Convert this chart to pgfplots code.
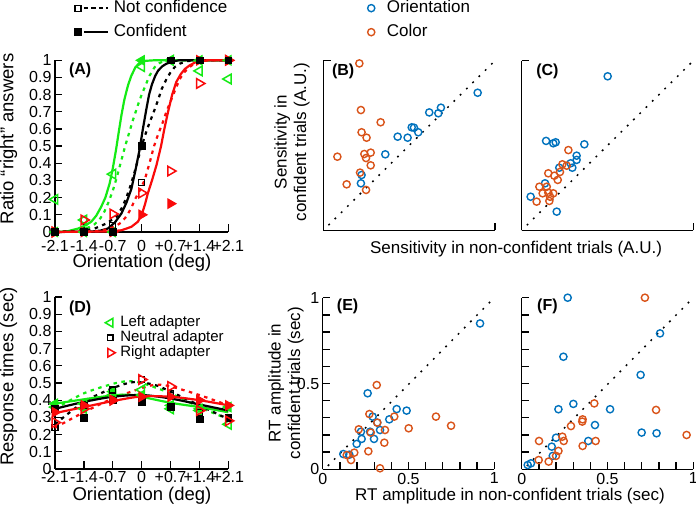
\documentclass[border=0pt]{standalone}
\usepackage{fontspec}
\setmainfont{Liberation Sans}
\usepackage{pgfplots}
\pgfplotsset{compat=1.18}
\definecolor{gr}{RGB}{20,235,20}
\definecolor{rd}{RGB}{250,10,10}
\definecolor{bl}{RGB}{0,114,189}
\definecolor{og}{RGB}{217,83,25}
\newcommand{\tfont}{\fontsize{16}{16}\selectfont}
\newcommand{\lfont}{\fontsize{17}{19.5}\selectfont}
\newcommand{\Lfont}{\fontsize{18.5}{20}\selectfont}
\newcommand{\pfont}{\bfseries\fontsize{16}{16}\selectfont}
\pgfplotsset{
  base/.style={scale only axis, clip=false,
    axis x line*=bottom, axis y line*=left,
    axis line style={line width=1.3pt, black},
    tick style={line width=1.3pt, black},
    tick align=inside, major tick length=7.5pt,
    tick label style={font=\tfont},
    /pgf/number format/assume math mode=true},
  sol/.style={line width=2.2pt, forget plot},
  dot/.style={line width=2.2pt, dash pattern=on 3.5pt off 4.5pt, forget plot},
  ltri/.style={only marks, forget plot, mark=triangle, mark size=5.5pt, mark options={rotate=90, line width=1.5pt}},
  ltrif/.style={only marks, forget plot, mark=triangle*, mark size=5.5pt, mark options={rotate=90, line width=1pt}},
  rtri/.style={only marks, forget plot, mark=triangle, mark size=5.5pt, mark options={rotate=-90, line width=1.5pt}},
  rtrif/.style={only marks, forget plot, mark=triangle*, mark size=5.5pt, mark options={rotate=-90, line width=1pt}},
  sq/.style={only marks, forget plot, mark=square, mark size=3pt, mark options={line width=1.4pt}},
  sqf/.style={only marks, forget plot, mark=square*, mark size=3.4pt},
  circ/.style={only marks, forget plot, mark=o, mark size=3.6pt, mark options={line width=1.4pt}},
  idline/.style={black, line width=1.5pt, dash pattern=on 1.8pt off 7pt, forget plot},
}
\begin{document}
\begin{tikzpicture}
% ---------------- Panel A ----------------
\begin{axis}[base, at={(55pt,279pt)}, anchor=south west, width=173.3pt, height=171.7pt,
  xmin=-2.1, xmax=2.1, ymin=0, ymax=1,
  xtick={-2.1,-1.4,-0.7,0,0.7,1.4,2.1}, xticklabels={-2.1,-1.4,-0.7,0,+0.7,+1.4,+2.1},
  xticklabel style={yshift=-4.5pt},
  ytick={0,0.1,0.2,0.3,0.4,0.5,0.6,0.7,0.8,0.9,1},
  yticklabels={0,0.1,0.2,0.3,0.4,0.5,0.6,0.7,0.8,0.9,1},
  legend style={at={(axis description cs:0.114,1.354)}, anchor=north west, draw=none, fill=none,
    inner sep=0pt, column sep=5pt, row sep=7pt, font=\lfont,
    nodes={inner sep=0pt, text height=13pt, text depth=4pt}},
  legend cell align=left,
  legend image code/.code={\draw[#1,mark=none] (6pt,0pt) -- (30pt,0pt); \draw[#1,only marks] plot coordinates {(0pt,0pt)};}]
\addlegendimage{black, line width=2pt, dash pattern=on 4.5pt off 3pt, mark=square, mark size=3pt, mark options={solid, line width=1.4pt}}
\addlegendentry{Not confidence}
\addlegendimage{black, line width=2pt, mark=square*, mark size=3pt, mark options={solid}}
\addlegendentry{Confident}
% curves
\addplot[gr, sol] coordinates {(-2.1,0) (-1.8,0.004) (-1.54,0.02) (-1.35,0.04) (-1.22,0.06) (-1.1,0.095) (-0.98,0.147) (-0.88,0.2) (-0.775,0.283) (-0.7,0.37) (-0.62,0.48) (-0.55,0.59) (-0.49,0.68) (-0.42,0.77) (-0.33,0.855) (-0.25,0.91) (-0.15,0.96) (-0.05,0.985) (0.1,0.997) (0.3,1) (2.1,1)};
\addplot[gr, dot] coordinates {(-2.1,0) (-1.5,0.01) (-1.3,0.025) (-1.14,0.045) (-1.0,0.08) (-0.9,0.12) (-0.8,0.175) (-0.7,0.24) (-0.6,0.32) (-0.5,0.41) (-0.4,0.5) (-0.3,0.58) (-0.2,0.66) (-0.09,0.74) (0.0,0.8) (0.07,0.84) (0.19,0.91) (0.315,0.96) (0.42,0.982) (0.52,0.994) (0.8,1) (2.1,1)};
\addplot[black, sol] coordinates {(-2.1,0) (-1.2,0.003) (-1.0,0.008) (-0.82,0.02) (-0.65,0.055) (-0.49,0.108) (-0.37,0.17) (-0.25,0.25) (-0.15,0.36) (-0.05,0.48) (0.03,0.6) (0.11,0.71) (0.18,0.8) (0.25,0.86) (0.33,0.91) (0.4,0.94) (0.5,0.965) (0.6,0.98) (0.75,0.993) (0.9,1) (2.1,1)};
\addplot[black, dot] coordinates {(-2.1,0) (-1.4,0.008) (-1.14,0.02) (-0.85,0.05) (-0.61,0.09) (-0.48,0.14) (-0.37,0.2) (-0.27,0.27) (-0.17,0.35) (-0.08,0.43) (0.0,0.5) (0.08,0.56) (0.15,0.61) (0.23,0.66) (0.31,0.71) (0.4,0.77) (0.48,0.83) (0.6,0.89) (0.7,0.93) (0.8,0.96) (0.92,0.98) (1.1,0.995) (1.3,1) (2.1,1)};
\addplot[rd, dot] coordinates {(-2.1,0) (-1.0,0.005) (-0.65,0.03) (-0.5,0.055) (-0.37,0.09) (-0.25,0.14) (-0.17,0.186) (-0.05,0.24) (0.07,0.3) (0.19,0.4) (0.3,0.5) (0.4,0.57) (0.5,0.63) (0.6,0.7) (0.7,0.76) (0.8,0.82) (0.92,0.89) (1.05,0.935) (1.16,0.96) (1.3,0.985) (1.5,0.997) (1.7,1) (2.1,1)};
\addplot[rd, sol] coordinates {(-2.1,0) (-0.8,0.003) (-0.49,0.01) (-0.25,0.03) (-0.09,0.06) (0.0,0.1) (0.08,0.16) (0.15,0.225) (0.25,0.3) (0.36,0.39) (0.47,0.5) (0.55,0.6) (0.64,0.7) (0.74,0.8) (0.84,0.874) (0.95,0.92) (1.05,0.95) (1.16,0.97) (1.3,0.988) (1.57,1.0) (2.1,1)};
% markers
\addplot[gr, ltrif] coordinates {(-2.1,0) (-1.4,0) (-0.7,0) (0,1) (0.7,1) (1.4,1) (2.1,1)};
\addplot[gr, ltri] coordinates {(-2.1,0.19) (-1.4,0.07) (-0.7,0.337) (0,0.963) (0.7,1) (1.4,0.938) (2.1,0.891)};
\addplot[rd, rtri] coordinates {(-2.1,0) (-1.4,0.07) (-0.7,0.105) (0,0.227) (0.7,0.355) (1.4,0.865) (2.1,1)};
\addplot[rd, rtrif] coordinates {(-2.1,0) (-1.4,0) (-0.7,0) (0,0.1) (0.7,0.165) (1.4,1) (2.1,1)};
\addplot[black, sq] coordinates {(-2.1,0) (-1.4,0) (-0.7,0.037) (0,0.289) (0.7,1) (1.4,1) (2.1,1)};
\addplot[black, sqf] coordinates {(-2.1,0) (-1.4,0) (-0.7,0) (0,0.502) (0.7,1) (1.4,1) (2.1,1)};
\node[font=\pfont] at (rel axis cs:0.145,0.943) {(A)};
\end{axis}
% ---------------- Panel D ----------------
\begin{axis}[base, at={(55pt,42pt)}, anchor=south west, width=173.3pt, height=172pt,
  xmin=-2.1, xmax=2.1, ymin=0, ymax=1,
  xtick={-2.1,-1.4,-0.7,0,0.7,1.4,2.1}, xticklabels={-2.1,-1.4,-0.7,0,+0.7,+1.4,+2.1},
  xticklabel style={yshift=1.5pt},
  ytick={0,0.1,0.2,0.3,0.4,0.5,0.6,0.7,0.8,0.9,1},
  yticklabels={0,0.1,0.2,0.3,0.4,0.5,0.6,0.7,0.8,0.9,1},
  legend style={at={(axis description cs:0.289,0.895)}, anchor=north west, draw=none, fill=none,
    inner sep=0pt, column sep=5pt, row sep=0pt, font=\fontsize{15}{15}\selectfont,
    nodes={inner sep=0pt, text height=11pt, text depth=4pt}},
  legend cell align=left,
  legend image code/.code={\draw[#1] plot coordinates {(0pt,0pt)};}]
\addlegendimage{only marks, gr, mark=triangle, mark size=5pt, mark options={rotate=90, line width=1.5pt}}
\addlegendentry{Left adapter}
\addlegendimage{only marks, black, mark=square, mark size=2.8pt, mark options={line width=1.6pt}}
\addlegendentry{Neutral adapter}
\addlegendimage{only marks, rd, mark=triangle, mark size=5pt, mark options={rotate=-90, line width=1.5pt}}
\addlegendentry{Right adapter}
\addplot[gr, dot, smooth] coordinates {(-2.1,0.35) (-1.4,0.44) (-0.7,0.495) (-0.35,0.51) (0,0.5) (0.7,0.44) (1.4,0.36) (2.1,0.29)};
\addplot[black, dot, smooth] coordinates {(-2.1,0.26) (-1.4,0.39) (-0.7,0.47) (-0.2,0.505) (0.3,0.49) (0.7,0.45) (1.4,0.37) (2.1,0.29)};
\addplot[rd, dot, smooth] coordinates {(-2.1,0.24) (-1.4,0.33) (-0.7,0.41) (0,0.47) (0.35,0.49) (0.7,0.48) (1.4,0.43) (2.1,0.37)};
\addplot[gr, sol, smooth] coordinates {(-2.1,0.38) (-1.4,0.405) (-0.7,0.428) (-0.3,0.432) (0,0.42) (0.7,0.385) (1.4,0.36) (2.1,0.33)};
\addplot[black, sol, smooth] coordinates {(-2.1,0.35) (-1.4,0.39) (-0.7,0.42) (0,0.43) (0.7,0.41) (1.4,0.375) (2.1,0.34)};
\addplot[rd, sol, smooth] coordinates {(-2.1,0.325) (-1.4,0.36) (-0.7,0.395) (0,0.422) (0.7,0.42) (1.4,0.4) (2.1,0.37)};
\addplot[gr, ltri] coordinates {(-2.1,0.36) (-1.4,0.38) (-0.7,0.43) (0,0.46) (0.7,0.35) (1.4,0.34) (2.1,0.26)};
\addplot[gr, ltrif] coordinates {(-2.1,0.38) (-1.4,0.35) (-0.7,0.45) (0,0.43) (0.7,0.37) (1.4,0.35) (2.1,0.36)};
\addplot[black, sq] coordinates {(-2.1,0.24) (-1.4,0.37) (-0.7,0.46) (0,0.52) (0.7,0.44) (1.4,0.33) (2.1,0.30)};
\addplot[black, sqf] coordinates {(-2.1,0.35) (-1.4,0.30) (-0.7,0.40) (0,0.39) (0.7,0.36) (1.4,0.29) (2.1,0.30)};
\addplot[rd, rtri] coordinates {(-2.1,0.27) (-1.4,0.35) (-0.7,0.40) (0,0.52) (0.7,0.48) (1.4,0.34) (2.1,0.28)};
\addplot[rd, rtrif] coordinates {(-2.1,0.33) (-1.4,0.37) (-0.7,0.40) (0,0.42) (0.7,0.42) (1.4,0.40) (2.1,0.37)};
\node[font=\pfont] at (rel axis cs:0.145,0.936) {(D)};
\end{axis}
% ---------------- Panel B ----------------
\begin{axis}[base, at={(323.3pt,280.7pt)}, anchor=south west, width=171.7pt, height=169.6pt,
  xmin=0, xmax=1, ymin=0, ymax=1, xtick={0,1}, ytick={0,1}, xticklabels={,,}, yticklabels={,,},
  legend style={at={(axis description cs:0.257,1.361)}, anchor=north west, draw=none, fill=none,
    inner sep=0pt, column sep=12pt, row sep=7pt, font=\lfont,
    nodes={inner sep=0pt, text height=13pt, text depth=4pt}},
  legend cell align=left,
  legend image code/.code={\draw[#1] plot coordinates {(0pt,0pt)};}]
\addlegendimage{only marks, bl, mark=o, mark size=3.6pt, mark options={line width=1.4pt}}
\addlegendentry{Orientation}
\addlegendimage{only marks, og, mark=o, mark size=3.6pt, mark options={line width=1.4pt}}
\addlegendentry{Color}
\addplot[idline] coordinates {(0.03,0.03) (1,1)};
\addplot[bl, circ] coordinates {(0.899,0.811) (0.685,0.723) (0.67,0.69) (0.617,0.695) (0.515,0.607) (0.528,0.605) (0.553,0.578) (0.433,0.552) (0.491,0.546) (0.361,0.448) (0.223,0.326) (0.219,0.277)};
\addplot[og, circ] coordinates {(0.21,0.984) (0.219,0.709) (0.334,0.637) (0.223,0.578) (0.252,0.546) (0.082,0.434) (0.239,0.45) (0.276,0.458) (0.249,0.426) (0.276,0.383) (0.214,0.34) (0.136,0.271) (0.249,0.238)};
\node[font=\pfont] at (rel axis cs:0.116,0.94) {(B)};
\end{axis}
% ---------------- Panel C ----------------
\begin{axis}[base, at={(521.7pt,280.7pt)}, anchor=south west, width=171.6pt, height=169.6pt,
  xmin=0, xmax=1, ymin=0, ymax=1, xtick={0,1}, ytick={0,1}, xticklabels={,,}, yticklabels={,,}]
\addplot[idline] coordinates {(0.03,0.03) (1,1)};
\addplot[bl, circ] coordinates {(0.501,0.908) (0.142,0.527) (0.184,0.513) (0.198,0.519) (0.365,0.507) (0.32,0.44) (0.32,0.415) (0.285,0.395) (0.295,0.369) (0.219,0.369) (0.136,0.277) (0.052,0.198) (0.204,0.11)};
\addplot[og, circ] coordinates {(0.272,0.473) (0.237,0.389) (0.262,0.381) (0.223,0.344) (0.155,0.336) (0.19,0.322) (0.21,0.297) (0.103,0.257) (0.146,0.257) (0.122,0.218) (0.155,0.222) (0.184,0.218) (0.165,0.198) (0.087,0.169) (0.161,0.173)};
\node[font=\pfont] at (rel axis cs:0.15,0.94) {(C)};
\end{axis}
% ---------------- Panel E ----------------
\begin{axis}[base, at={(322.7pt,41.7pt)}, anchor=south west, width=171.6pt, height=171.6pt,
  xmin=0, xmax=1, ymin=0, ymax=1,
  xtick={0,0.1,0.2,0.3,0.4,0.5,0.6,0.7,0.8,0.9,1}, xticklabels={0,,,,,0.5,,,,,1},
  ytick={0,0.1,0.2,0.3,0.4,0.5,0.6,0.7,0.8,0.9,1}, yticklabels={0,,,,,0.5,,,,,1}]
\addplot[idline] coordinates {(0.03,0.02) (1,1)};
\addplot[bl, circ] coordinates {(0.917,0.85) (0.262,0.443) (0.431,0.351) (0.489,0.342) (0.388,0.291) (0.291,0.307) (0.318,0.272) (0.334,0.229) (0.276,0.219) (0.223,0.219) (0.227,0.177) (0.299,0.177) (0.198,0.148) (0.12,0.089) (0.155,0.085)};
\addplot[og, circ] coordinates {(0.315,0.491) (0.272,0.322) (0.417,0.307) (0.66,0.307) (0.748,0.254) (0.318,0.272) (0.21,0.233) (0.363,0.229) (0.501,0.239) (0.28,0.214) (0.359,0.155) (0.266,0.105) (0.184,0.097) (0.14,0.083) (0.165,0.054) (0.334,0.006)};
\node[font=\pfont] at (rel axis cs:0.145,0.95) {(E)};
\end{axis}
% ---------------- Panel F ----------------
\begin{axis}[base, at={(521.7pt,41.7pt)}, anchor=south west, width=171.6pt, height=171.6pt,
  xmin=0, xmax=1, ymin=0, ymax=1,
  xtick={0,0.1,0.2,0.3,0.4,0.5,0.6,0.7,0.8,0.9,1}, xticklabels={0,,,,,0.5,,,,,1},
  ytick={0,0.1,0.2,0.3,0.4,0.5,0.6,0.7,0.8,0.9,1}, yticklabels={,,,,,,,,,,}]
\addplot[idline] coordinates {(0.03,0.02) (1,1)};
\addplot[bl, circ] coordinates {(0.268,1.0) (0.243,0.656) (0.806,0.792) (0.693,0.55) (0.301,0.381) (0.214,0.35) (0.515,0.35) (0.427,0.258) (0.699,0.214) (0.786,0.21) (0.2,0.184) (0.388,0.165) (0.175,0.132) (0.181,0.078) (0.054,0.035) (0.035,0.025)};
\addplot[og, circ] coordinates {(0.718,1.0) (0.423,0.384) (0.783,0.346) (0.355,0.291) (0.353,0.278) (0.287,0.252) (0.237,0.19) (0.245,0.165) (0.101,0.165) (0.431,0.165) (0.961,0.2) (0.355,0.136) (0.214,0.107) (0.2,0.078) (0.099,0.054) (0.157,0.045)};
\node[font=\pfont] at (rel axis cs:0.15,0.95) {(F)};
\end{axis}
% ---------------- labels ----------------
\node[font=\Lfont, rotate=90] at (8.5pt,372pt) {Ratio “right” answers};
\node[font=\Lfont, rotate=90] at (8.5pt,134.5pt) {Response times (sec)};
\node[font=\Lfont, anchor=base] at (142pt,243pt) {Orientation (deg)};
\node[font=\Lfont, anchor=base] at (142pt,10pt) {Orientation (deg)};
\node[font=\lfont, rotate=90, align=center] at (292pt,369pt) {Sensitivity in\\confident trials (A.U.)};
\node[font=\lfont] at (516pt,262pt) {Sensitivity in non-confident trials (A.U.)};
\node[font=\lfont, rotate=90, align=center] at (286pt,128pt) {RT amplitude in\\confident trials (sec)};
\node[font=\lfont, anchor=base] at (510pt,10pt) {RT amplitude in non-confident trials (sec)};
\pgfresetboundingbox
\path[use as bounding box] (0pt,0pt) rectangle (696pt,511pt);
\end{tikzpicture}
\end{document}
